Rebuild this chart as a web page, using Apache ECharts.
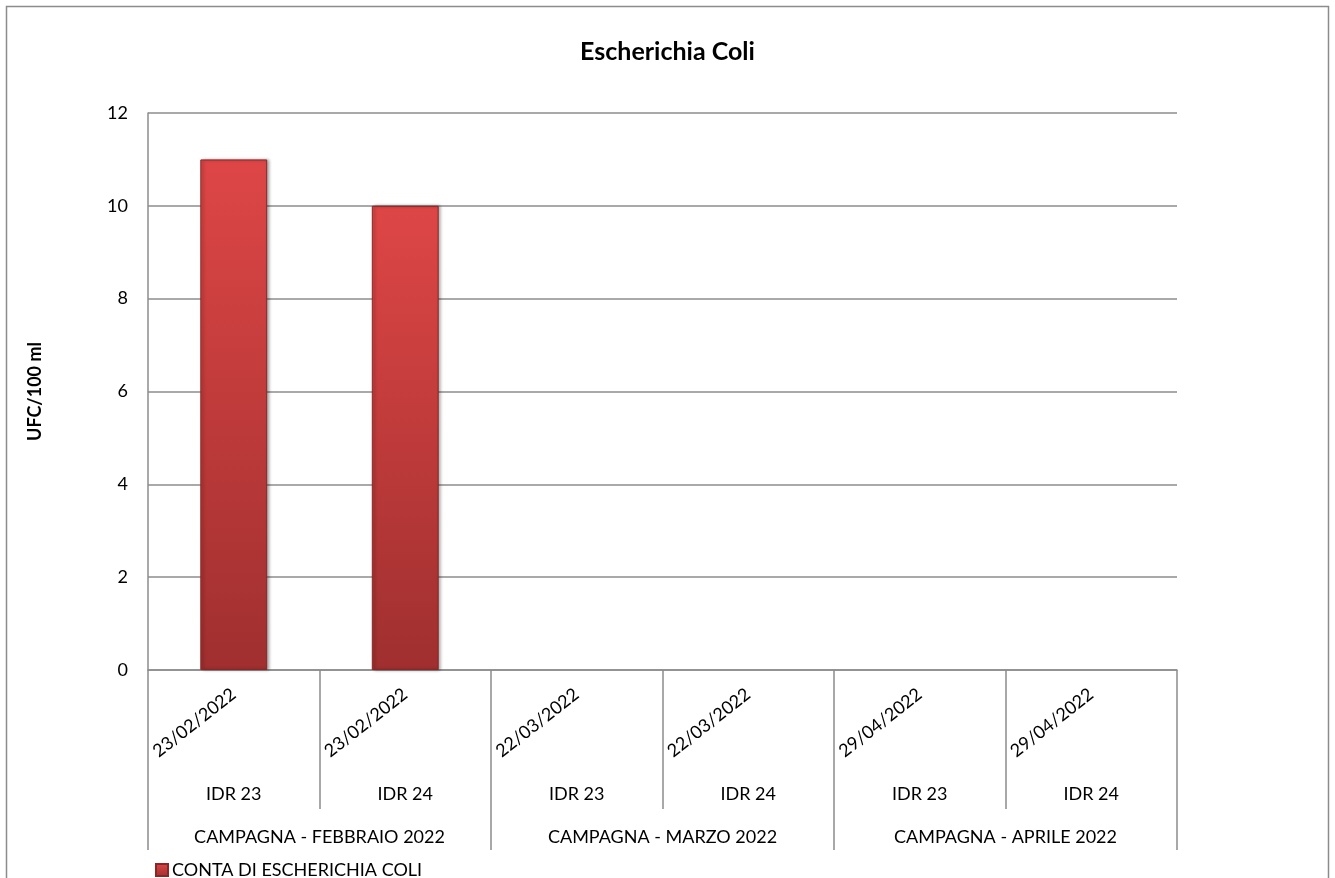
<!DOCTYPE html>
<html>
<head>
<meta charset="utf-8">
<script src="https://cdn.jsdelivr.net/npm/echarts@6/dist/echarts.min.js"></script>
<style>
  html, body { margin: 0; padding: 0; background: #fff; }
  #chart { width: 1335px; height: 878px; }
</style>
</head>
<body>
<div id="chart"></div>
<script>
// dati
const dates = ['23/02/2022', '23/02/2022', '22/03/2022', '22/03/2022', '29/04/2022', '29/04/2022'];
const stations = ['IDR 23', 'IDR 24', 'IDR 23', 'IDR 24', 'IDR 23', 'IDR 24'];
const campaigns = ['CAMPAGNA - FEBBRAIO 2022', 'CAMPAGNA - MARZO 2022', 'CAMPAGNA - APRILE 2022'];
const ecoliValues = [11, 10, null, null, null, null];
const yTicks = [0, 2, 4, 6, 8, 10, 12];

const font = 'Lato, "Open Sans", sans-serif';
const lineGray = '#8c8c8c';

const chart = echarts.init(document.getElementById('chart'));

const barStyle = {
  color: new echarts.graphic.LinearGradient(0, 0, 0, 1, [
    {offset: 0, color: '#de4646'},
    {offset: 1, color: '#a02f2f'}
  ]),
  borderColor: '#8a2626',
  borderWidth: 1,
  shadowColor: 'rgba(0,0,0,0.35)',
  shadowBlur: 3,
  shadowOffsetX: 2,
  shadowOffsetY: 0
};

const option = {
  backgroundColor: '#fff',
  animation: false,
  textStyle: {fontFamily: font},
  title: {
    text: 'Escherichia Coli',
    left: 'center',
    top: 34,
    textStyle: {fontFamily: font, fontSize: 25, fontWeight: 'bold', color: '#000'}
  },
  legend: {
    left: 150,
    top: 856,
    itemWidth: 12,
    itemHeight: 12,
    itemGap: 4,
    textStyle: {fontFamily: font, fontSize: 18, color: '#000', padding: [0, 0, 0, -1]},
    data: [{name: 'CONTA DI ESCHERICHIA COLI', icon: 'rect'}]
  },
  graphic: [{
    type: 'rect',
    shape: {x: 6.5, y: 6.5, width: 1322, height: 900},
    style: {fill: 'none', stroke: '#8c8c8c', lineWidth: 1.5},
    silent: true
  }],
  grid: {left: 148, top: 113, right: 158, bottom: 208},
  xAxis: [
    {
      type: 'category',
      data: dates,
      position: 'bottom',
      axisLine: {show: true, lineStyle: {color: lineGray, width: 1.5}},
      axisTick: {show: false},
      axisLabel: {rotate: 38, margin: 22, fontSize: 18, color: '#000', fontFamily: font, interval: 0}
    },
    {
      type: 'category',
      data: stations,
      position: 'bottom',
      axisLine: {show: false},
      axisTick: {show: true, length: 139, lineStyle: {color: lineGray, width: 1.5}},
      axisLabel: {margin: 115, fontSize: 18, color: '#000', fontFamily: font, interval: 0}
    },
    {
      type: 'category',
      data: campaigns,
      position: 'bottom',
      axisLine: {show: false},
      axisTick: {show: true, length: 180, lineStyle: {color: lineGray, width: 1.5}},
      axisLabel: {margin: 158, fontSize: 18, color: '#000', fontFamily: font, interval: 0}
    }
  ],
  yAxis: {
    type: 'value',
    min: yTicks[0],
    max: yTicks[yTicks.length - 1],
    interval: 2,
    name: 'UFC/100 ml',
    nameLocation: 'middle',
    nameGap: 104,
    nameRotate: 90,
    nameTextStyle: {fontFamily: font, fontSize: 18, fontWeight: 'bold', color: '#000'},
    axisLine: {show: true, lineStyle: {color: lineGray, width: 1.5}},
    axisTick: {show: false},
    axisLabel: {margin: 20, fontSize: 18, color: '#000', fontFamily: font},
    splitLine: {show: true, lineStyle: {color: lineGray, width: 1.5}}
  },
  series: [{
    name: 'CONTA DI ESCHERICHIA COLI',
    type: 'bar',
    xAxisIndex: 0,
    data: ecoliValues,
    barWidth: '39%',
    itemStyle: barStyle
  }]
};

chart.setOption(option);
</script>
</body>
</html>
